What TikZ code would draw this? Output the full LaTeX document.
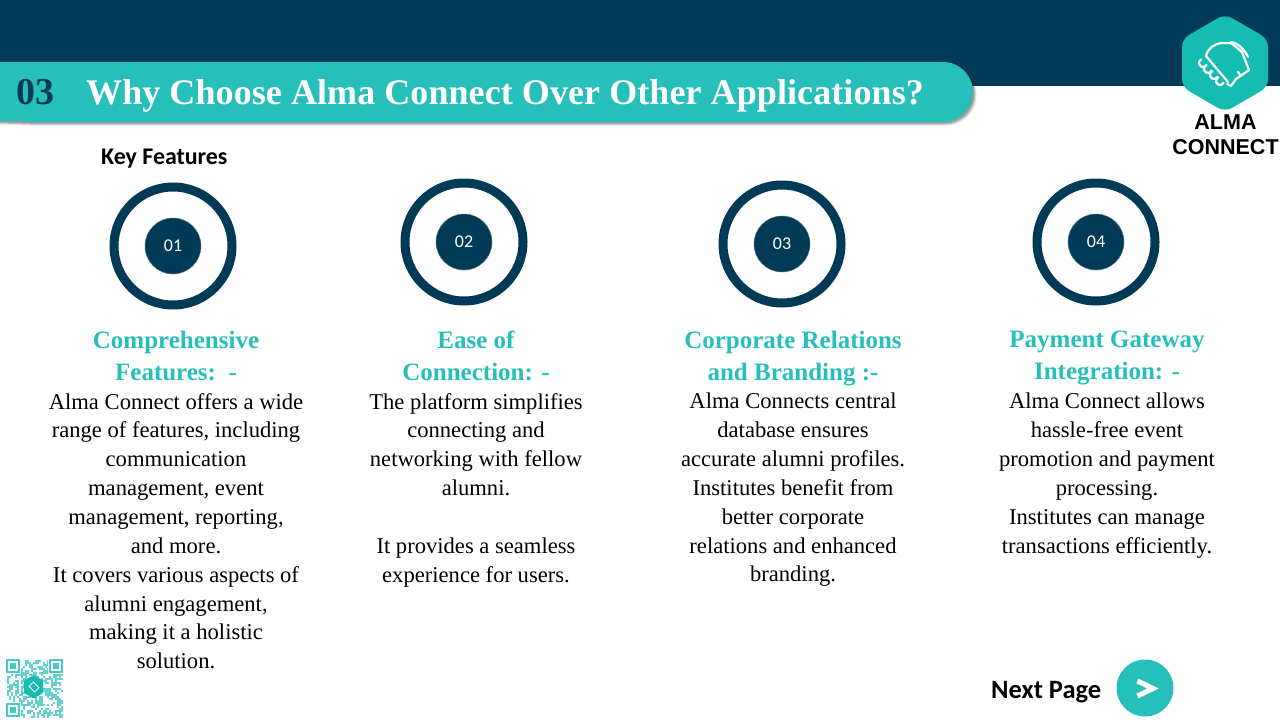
\documentclass[tikz,border=0pt]{standalone}
\usepackage{fontspec}
\setmainfont{Liberation Serif}
\newfontfamily\carl{Carlito}
\newfontfamily\arial{Liberation Sans}
\newfontfamily\titlef[LetterSpace=0.25]{Liberation Serif}
\definecolor{navy}{HTML}{003A57}
\definecolor{teal}{HTML}{26BFB9}
\definecolor{logoteal}{HTML}{14BDB0}
\tikzset{
  ringo/.style={circle,draw=navy,line width=9pt,minimum size=118pt,inner sep=0pt},
  dot/.style={circle,fill=navy,draw=navy!70!white,line width=.5pt,minimum size=56pt,inner sep=0pt,text=white,font=\fontsize{18}{20}\selectfont\carl},
  head/.style={align=center,text=teal,font=\fontsize{25}{32}\selectfont\bfseries,inner sep=0pt,anchor=north,execute at begin node={\rule{0pt}{20pt}}},
  body/.style={align=center,text=black,font=\fontsize{22.6}{28.85}\selectfont,inner sep=0pt,anchor=north,execute at begin node={\rule{0pt}{20pt}}},
  qrc/.style={fill=teal!72!white}
}
\begin{document}
\begin{tikzpicture}[x=1pt,y=-1pt]
\useasboundingbox (0,0) rectangle (1280,720);
\fill[white] (0,0) rectangle (1280,720);
\fill[navy] (0,0) rectangle (1280,86);
% title band
\foreach \o/\c in {3.5/.10,2.5/.14,1.5/.20}{
\fill[black,opacity=\c] (0,62+\o) -- (943+\o,62+\o) arc[start angle=-90,end angle=90,radius=30] -- (30,122+\o) -- (0,121+\o) -- cycle;}
\fill[teal] (0,62) -- (943,62) arc[start angle=-90,end angle=90,radius=30] -- (30,122) .. controls (20,121) and (10,121) .. (0,121) -- cycle;
\node[anchor=base west,text=navy,inner sep=0pt,font=\fontsize{38}{40}\selectfont\bfseries] (num) at (16,104) {03};
\node[anchor=base west,text=white,inner sep=0pt,font=\fontsize{36}{40}\selectfont\bfseries\titlef] (title) at (86,104) {Why Choose Alma Connect Over Other Applications?};
% logo
\fill[logoteal,rounded corners=8pt] (1225,14) -- (1268,39) -- (1268,87) -- (1225,112) -- (1182,87) -- (1182,39) -- cycle;
\begin{scope}[white,line width=2.2pt,line cap=round,line join=round]
\draw (1206,56) .. controls (1208,48) and (1214,44) .. (1222,43) -- (1231,43) -- (1242,52) -- (1249,70);
\draw (1231,42) .. controls (1238,43) and (1245,50) .. (1248,57);
\draw (1206,56) -- (1228,82);
\draw (1249,70) -- (1236,79) -- (1231,86) -- (1227,84);
\foreach \cx/\cy in {1203/63,1208/69,1214/75,1220/81}{
  \draw (\cx+3.6,\cy+1.7) arc[start angle=25,end angle=245,radius=4];}
\draw (1241,76) -- (1238,72);
\end{scope}
\node[align=center,inner sep=0pt,font=\fontsize{21.5}{25}\selectfont\bfseries\arial] (logotext) at (1225.5,135) {ALMA\\CONNECT};
\node[anchor=west,inner sep=0pt,font=\fontsize{23.9}{26}\selectfont\bfseries\carl] (key) at (101,159) {Key Features};
% rings
\node[ringo] (r1) at (173,246) {};
\node[ringo] (r2) at (464,242) {};
\node[ringo] (r3) at (782,244) {};
\node[ringo] (r4) at (1096,242) {};
\node[dot] (d1) at (r1) {01};
\node[dot] (d2) at (r2) {02};
\node[dot] (d3) at (r3) {03};
\node[dot] (d4) at (r4) {04};
% headings
\node[head] (h1) at (176,331) {Comprehensive\\Features:\ \ -};
\node[head] (h2) at (476,331) {Ease of\\Connection: -};
\node[head] (h3) at (793,331) {Corporate Relations\\and Branding :-};
\node[head] (h4) at (1107,331) {Payment Gateway\\Integration: -};
% bodies
\node[body] (b1) at (176,393) {Alma Connect offers a wide\\range of features, including\\communication\\management, event\\management, reporting,\\and more.\\It covers various aspects of\\alumni engagement,\\making it a holistic\\solution.};
\node[body] (b2) at (476,393) {The platform simplifies\\connecting and\\networking with fellow\\alumni.\\[28.85pt]It provides a seamless\\experience for users.};
\node[body] (b3) at (793,393) {Alma Connects central\\database ensures\\accurate alumni profiles.\\Institutes benefit from\\better corporate\\relations and enhanced\\branding.};
\node[body] (b4) at (1107,393) {Alma Connect allows\\hassle-free event\\promotion and payment\\processing.\\Institutes can manage\\transactions efficiently.};
% next
\node[anchor=west,inner sep=0pt,font=\fontsize{26.5}{30}\selectfont\bfseries\carl] (next) at (991,692) {Next Page};
\node[circle,fill=teal,minimum size=57pt,inner sep=0pt] (btn) at (1145,688) {};
\draw[white,line width=5pt,line join=miter] (1137.5,681) -- (1153,688.5) -- (1137.5,696);
% QR
\pgfmathsetseed{11}
\foreach \i in {0,...,27}{\foreach \j in {0,...,28}{
  \pgfmathrandominteger{\r}{0}{99}
  \ifnum\r<50 \fill[qrc] (7+2*\i,660+2*\j) rectangle +(2,2);\fi
}}
\foreach \x/\y in {6/659,49/659,6/703}{
  \fill[white] (\x-1,\y-1) rectangle (\x+15,\y+15);
  \draw[teal!85!white,line width=2pt] (\x+1,\y+1) rectangle (\x+13,\y+13);
  \fill[teal!85!white] (\x+4,\y+4) rectangle (\x+10,\y+10);}
\fill[logoteal,rounded corners=1pt] (34,675) -- (43,680.5) -- (43,693) -- (34,698.5) -- (24,693) -- (24,680.5) -- cycle;
\draw[white,line width=.8pt,rotate around={-45:(34,687)}] (30,684) rectangle (38,690);
\end{tikzpicture}
\end{document}
